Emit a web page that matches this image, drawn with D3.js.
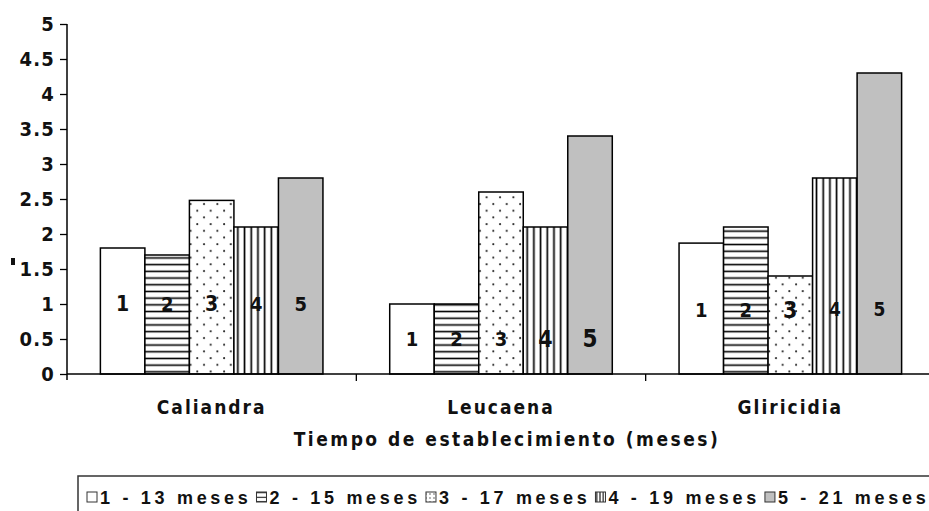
<!DOCTYPE html>
<html>
<head>
<meta charset="utf-8">
<script src="https://cdn.jsdelivr.net/npm/d3@7"></script>
<style>
  html, body { margin: 0; padding: 0; background: #fff; }
  svg { display: block; }
</style>
</head>
<body>
<svg id="chart" width="929" height="511"></svg>
<script>
// ---- data ----
const categories = ["Caliandra", "Leucaena", "Gliricidia"];
const seriesKeys = ["1", "2", "3", "4", "5"];
const seriesNames = ["1 - 13 meses", "2 - 15 meses", "3 - 17 meses", "4 - 19 meses", "5 - 21 meses"];
const valuesCaliandra = [1.8, 1.7, 2.48, 2.1, 2.8];
const valuesLeucaena = [1.0, 1.0, 2.6, 2.1, 3.4];
const valuesGliricidia = [1.87, 2.1, 1.4, 2.8, 4.3];
const yTicks = [0, 0.5, 1, 1.5, 2, 2.5, 3, 3.5, 4, 4.5, 5];
const xTitle = "Tiempo de establecimiento (meses)";
// level (in y units) of the numbered labels inside the bars, per category
const labelLevels = [1.01, 0.51, 0.92];

const valueRows = [valuesCaliandra, valuesLeucaena, valuesGliricidia];

// ---- styling ----
const labelSizes = [
  [21, 20, 21, 20, 20],
  [20, 20, 20, 23, 24],
  [20, 20, 23, 19, 19]
];
const fills = ["#ffffff", "url(#pHoriz)", "url(#pDots)", "url(#pVert)", "#c0c0c0"];
const legendFills = ["#ffffff", "url(#lHoriz)", "url(#lDot)", "url(#lVert)", "#c0c0c0"];
const condensed = "'DejaVu Sans Condensed', 'Liberation Sans Narrow', 'Arial Narrow', sans-serif";
const sans = "'Liberation Sans', Arial, sans-serif";

const svg = d3.select("#chart");
const plotL = 67, plotR = 935, plotT = 24, plotB = 374;

const x = d3.scaleBand().domain(categories).range([plotL, plotR]).paddingInner(0).paddingOuter(0);
const xs = d3.scaleBand().domain(seriesKeys).range([0, x.bandwidth()]).paddingInner(0).paddingOuter(0.75);
const y = d3.scaleLinear().domain([0, 5]).range([plotB, plotT]);

// ---- patterns ----
const defs = svg.append("defs");
function horizPattern(id, h, sw) {
  const p = defs.append("pattern").attr("id", id).attr("patternUnits", "userSpaceOnUse")
    .attr("width", 10).attr("height", h);
  p.append("rect").attr("width", 10).attr("height", h).attr("fill", "#fff");
  p.append("line").attr("x1", 0).attr("x2", 10).attr("y1", h / 2).attr("y2", h / 2)
    .attr("stroke", "#000").attr("stroke-width", sw);
}
function vertPattern(id, w, sw) {
  const p = defs.append("pattern").attr("id", id).attr("patternUnits", "userSpaceOnUse")
    .attr("width", w).attr("height", 10);
  p.append("rect").attr("width", w).attr("height", 10).attr("fill", "#fff");
  p.append("line").attr("y1", 0).attr("y2", 10).attr("x1", w / 2).attr("x2", w / 2)
    .attr("stroke", "#000").attr("stroke-width", sw);
}
horizPattern("pHoriz", 6.7, 1.6);
vertPattern("pVert", 6.7, 1.7);
horizPattern("lHoriz", 4.5, 1);
vertPattern("lVert", 3.2, 1);
{
  const s = 13.4;
  const p = defs.append("pattern").attr("id", "pDots").attr("patternUnits", "userSpaceOnUse")
    .attr("width", s).attr("height", s);
  p.append("rect").attr("width", s).attr("height", s).attr("fill", "#fff");
  p.append("circle").attr("cx", 3).attr("cy", 3).attr("r", 1).attr("fill", "#222");
  p.append("circle").attr("cx", 3 + s / 2).attr("cy", 3 + s / 2).attr("r", 1).attr("fill", "#222");
  const q = defs.append("pattern").attr("id", "lDot").attr("patternUnits", "userSpaceOnUse")
    .attr("width", 4).attr("height", 4);
  q.append("rect").attr("width", 4).attr("height", 4).attr("fill", "#fff");
  q.append("circle").attr("cx", 2).attr("cy", 2).attr("r", 0.7).attr("fill", "#333");
}

// ---- bars ----
const groups = svg.append("g").selectAll("g")
  .data(categories.map((c, i) => ({ cat: c, i, vals: valueRows[i] })))
  .join("g")
  .attr("transform", d => `translate(${x(d.cat)},0)`);

groups.selectAll("rect")
  .data(d => d.vals.map((v, j) => ({ v, j, key: seriesKeys[j] })))
  .join("rect")
  .attr("x", d => xs(d.key))
  .attr("width", xs.bandwidth())
  .attr("y", d => y(d.v))
  .attr("height", d => y(0) - y(d.v))
  .attr("fill", d => fills[d.j])
  .attr("stroke", "#000")
  .attr("stroke-width", 1.5);

groups.selectAll("text")
  .data(d => seriesKeys.map((k, j) => ({ k, j, i: d.i })))
  .join("text")
  .attr("x", d => xs(d.k) + xs.bandwidth() / 2)
  .attr("y", d => y(labelLevels[d.i]))
  .attr("dy", "0.36em")
  .attr("text-anchor", "middle")
  .attr("font-family", condensed)
  .attr("font-weight", "bold")
  .attr("font-size", d => labelSizes[d.i][d.j])
  .attr("fill", "#111")
  .text(d => d.k);

// ---- axes ----
const yAxis = d3.axisLeft(y).tickValues(yTicks).tickSize(7).tickPadding(5)
  .tickFormat(d => String(d));
const gy = svg.append("g").attr("transform", `translate(${plotL},0)`).call(yAxis);
gy.select(".domain").attr("d", `M0,${plotT}V${plotB + 6}`).attr("stroke", "#000").attr("stroke-width", 1.5);
gy.selectAll(".tick line").attr("stroke", "#000").attr("stroke-width", 1.3);
gy.selectAll(".tick text")
  .attr("font-family", condensed)
  .attr("font-weight", "bold").attr("font-size", 20).attr("letter-spacing", 1.2)
  .attr("fill", "#111");

// x axis baseline with category boundary ticks
const xAxis = d3.axisBottom(x).tickSize(0).tickPadding(27);
const gx = svg.append("g").attr("transform", `translate(0,${plotB})`).call(xAxis);
gx.select(".domain").remove();
gx.append("line").attr("x1", plotL).attr("x2", plotR).attr("stroke", "#000").attr("stroke-width", 1.5);
gx.selectAll(".boundary")
  .data(categories.slice(1))
  .join("line")
  .attr("class", "boundary")
  .attr("x1", d => x(d)).attr("x2", d => x(d))
  .attr("y1", 0).attr("y2", 7)
  .attr("stroke", "#000").attr("stroke-width", 1.3);
gx.selectAll(".tick text")
  .attr("font-family", condensed)
  .attr("font-weight", "bold").attr("font-size", 19).attr("letter-spacing", 2)
  .attr("fill", "#111");

svg.append("text")
  .attr("x", (plotL + plotR) / 2 + 6)
  .attr("y", 446)
  .attr("text-anchor", "middle")
  .attr("font-family", condensed)
  .attr("font-weight", "bold").attr("font-size", 19).attr("letter-spacing", 2.5)
  .attr("fill", "#111")
  .text(xTitle);

// stray mark near y axis label
svg.append("rect").attr("x", 11).attr("y", 258).attr("width", 4).attr("height", 7).attr("fill", "#111");

// ---- legend ----
const lg = svg.append("g");
lg.append("rect").attr("x", 78).attr("y", 476).attr("width", 900).attr("height", 60)
  .attr("fill", "#fff").attr("stroke", "#333").attr("stroke-width", 1.5);
let lx = 87;
seriesNames.forEach((name, j) => {
  lg.append("rect").attr("x", lx).attr("y", 492).attr("width", 10).attr("height", 10)
    .attr("fill", legendFills[j]).attr("stroke", "#333").attr("stroke-width", 1);
  const t = lg.append("text").attr("x", lx + 13).attr("y", 504)
    .attr("font-family", sans)
    .attr("font-weight", "bold").attr("font-size", 18).attr("letter-spacing", 3.7)
    .attr("fill", "#111").text(name);
  lx += 13 + t.node().getComputedTextLength() + 5;
});
</script>
</body>
</html>
